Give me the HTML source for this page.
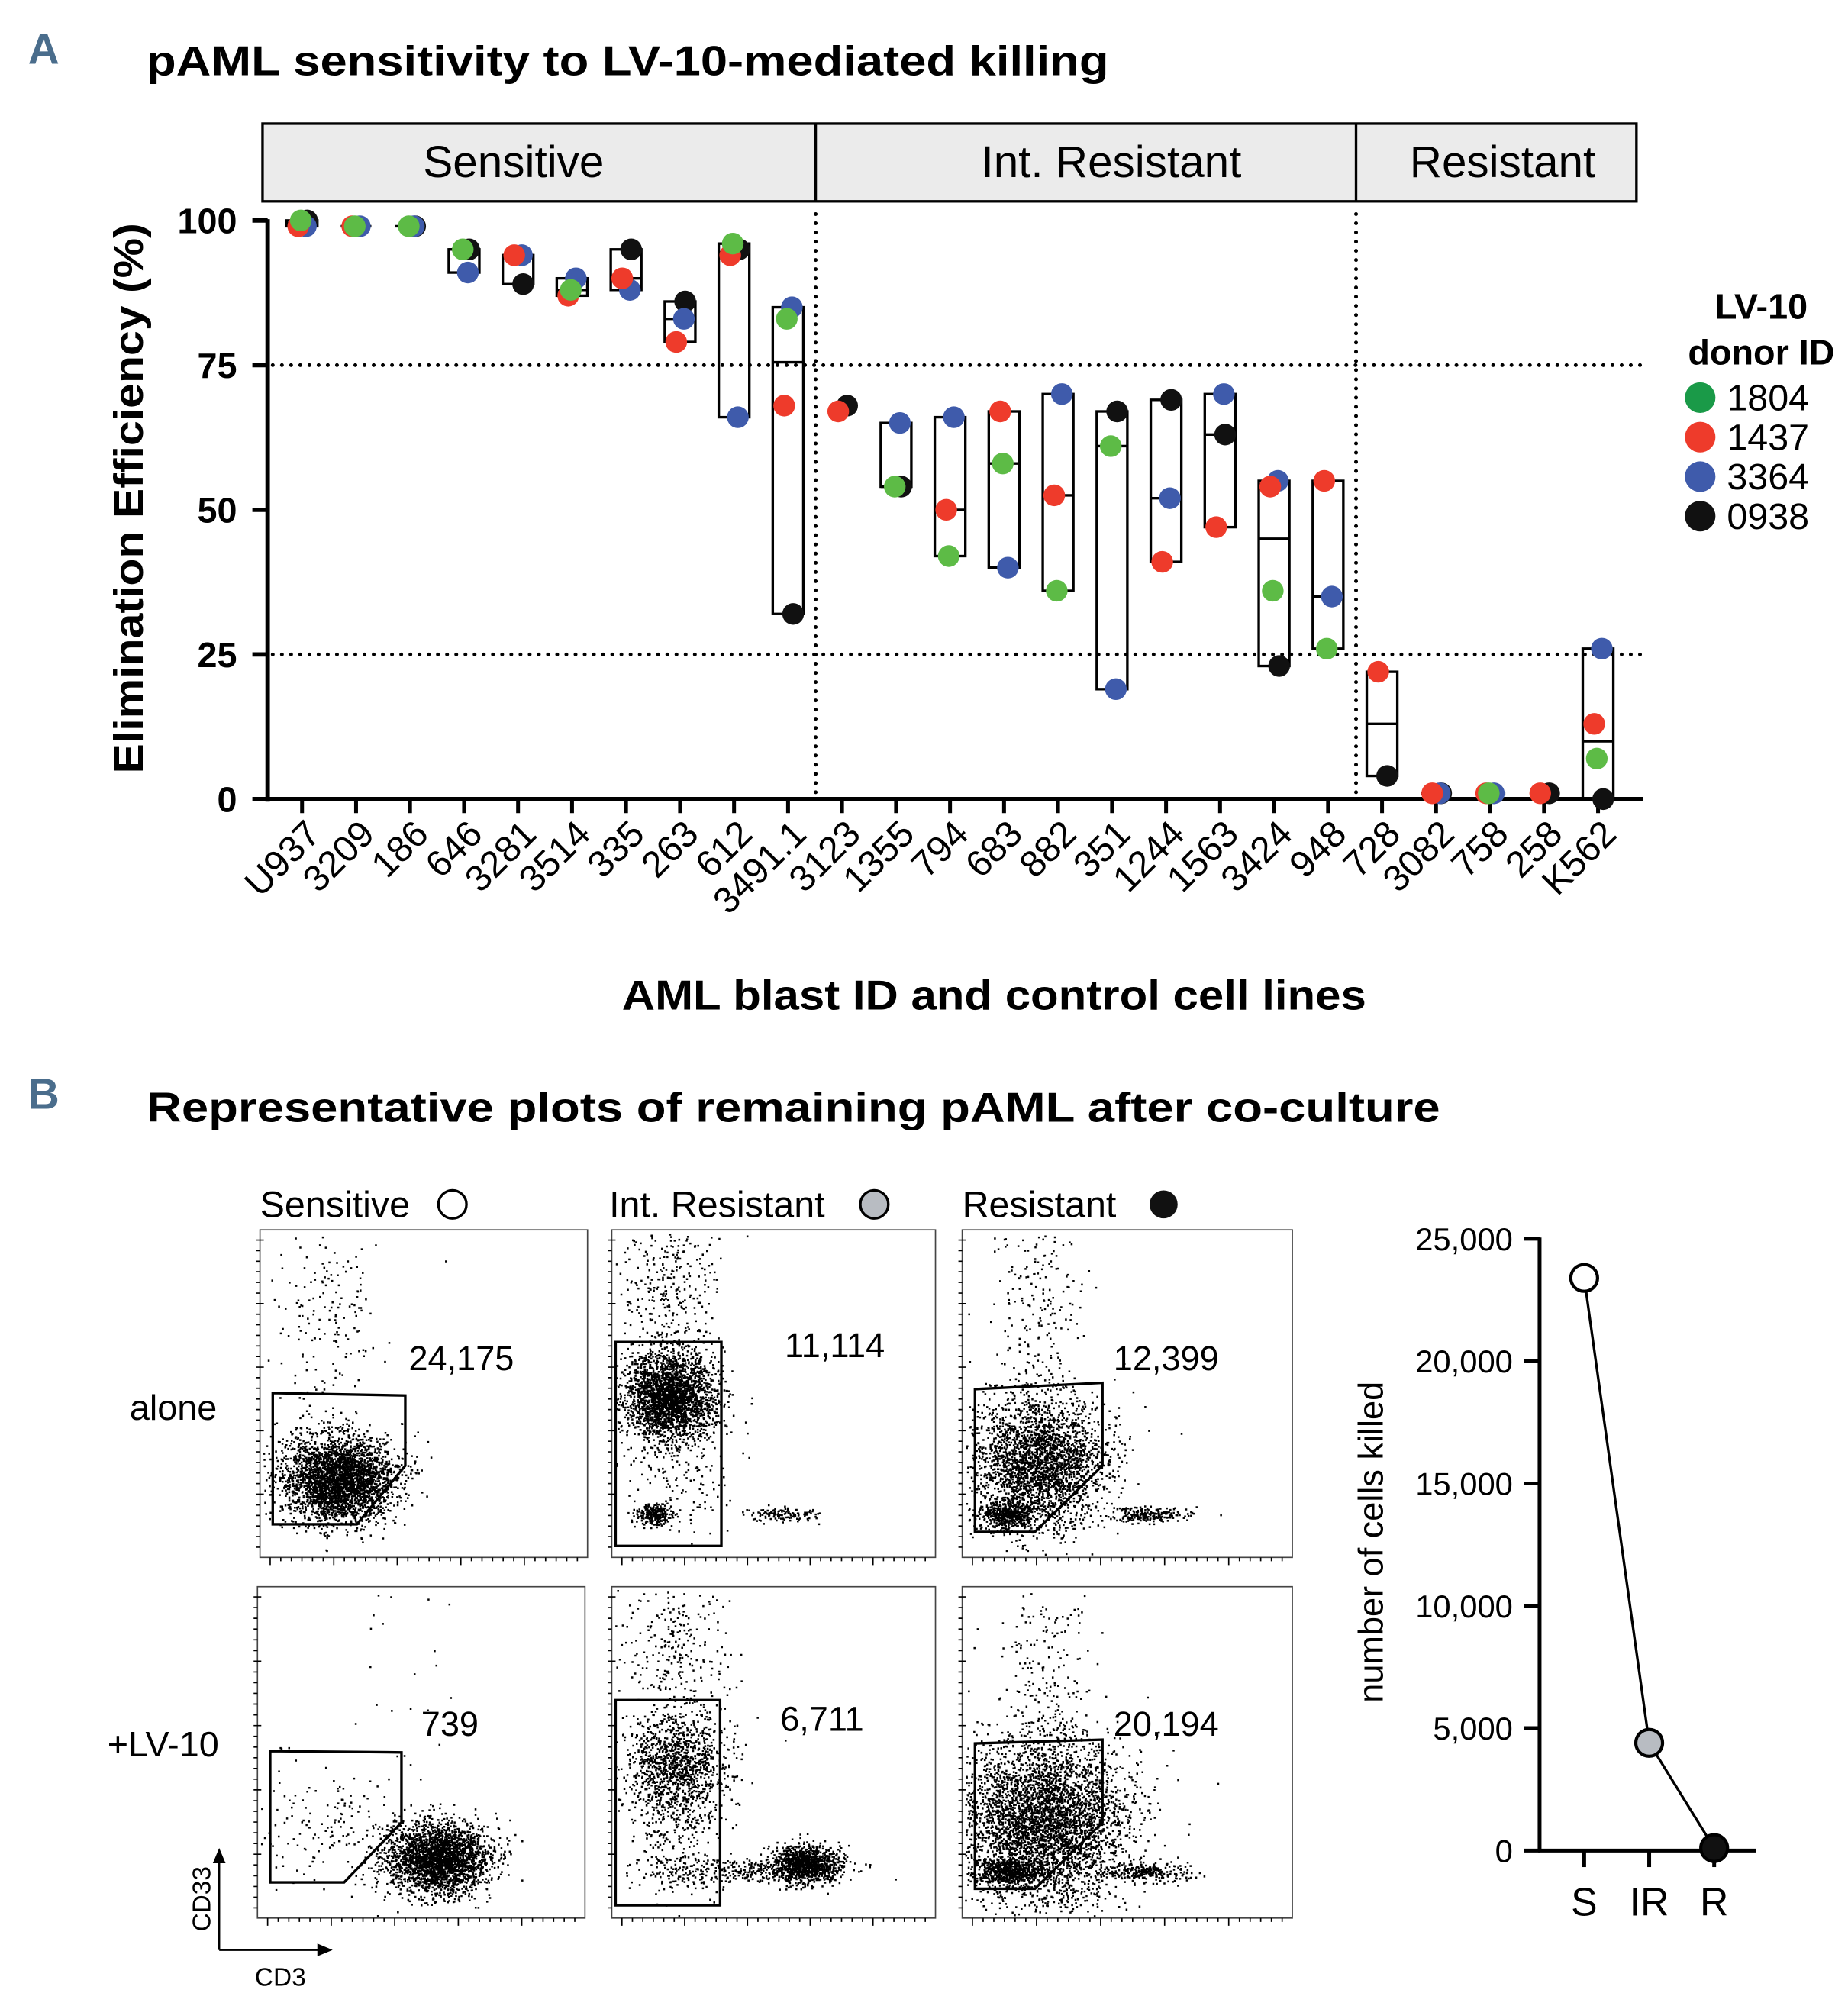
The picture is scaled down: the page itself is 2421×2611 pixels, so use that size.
<!DOCTYPE html>
<html><head><meta charset="utf-8"><style>
html,body{margin:0;padding:0;background:#fff}
svg{display:block}
text{font-family:"Liberation Sans",Arial,sans-serif}
</style></head><body>
<svg id="fig" xmlns="http://www.w3.org/2000/svg" width="2421" height="2611" viewBox="0 0 1450 1563.8">
<text x="22" y="50" font-size="34" font-weight="bold" fill="#4a6d8c">A</text>
<text x="115" y="59" font-size="33" font-weight="bold" textLength="755" lengthAdjust="spacingAndGlyphs">pAML sensitivity to LV-10-mediated killing</text>
<g>
<rect x="206" y="97" width="1078" height="61" fill="#ebebeb" stroke="#000" stroke-width="2"/>
<line x1="640" y1="97" x2="640" y2="158" stroke="#000" stroke-width="2"/>
<line x1="1064" y1="97" x2="1064" y2="158" stroke="#000" stroke-width="2"/>
<text x="403" y="139" font-size="35" text-anchor="middle">Sensitive</text>
<text x="872" y="139" font-size="35" text-anchor="middle">Int. Resistant</text>
<text x="1179" y="139" font-size="35" text-anchor="middle">Resistant</text>
</g>
<g id="chartA"></g>
<text transform="translate(112,391) rotate(-90)" font-size="32" font-weight="bold" text-anchor="middle" textLength="432" lengthAdjust="spacingAndGlyphs">Elimination Efficiency (%)</text>
<text x="780" y="792" font-size="33" font-weight="bold" text-anchor="middle" textLength="584" lengthAdjust="spacingAndGlyphs">AML blast ID and control cell lines</text>
<g>
<text x="1382" y="250" font-size="28" font-weight="bold" text-anchor="middle">LV-10</text>
<text x="1382" y="286" font-size="28" font-weight="bold" text-anchor="middle">donor ID</text>
<g><circle cx="1334" cy="312" r="12" fill="#1a9a48"/><text x="1355" y="322" font-size="29">1804</text></g>
<g><circle cx="1334" cy="343" r="12" fill="#ee3b2b"/><text x="1355" y="353" font-size="29">1437</text></g>
<g><circle cx="1334" cy="374" r="12" fill="#3f5bab"/><text x="1355" y="384" font-size="29">3364</text></g>
<g><circle cx="1334" cy="405" r="12" fill="#111"/><text x="1355" y="415" font-size="29">0938</text></g>
</g>
<text x="22" y="870" font-size="34" font-weight="bold" fill="#4a6d8c">B</text>
<text x="115" y="880" font-size="33" font-weight="bold" textLength="1015" lengthAdjust="spacingAndGlyphs">Representative plots of remaining pAML after co-culture</text>
<g>
<text x="204" y="955" font-size="29">Sensitive</text>
<circle cx="355" cy="945" r="11" fill="#fff" stroke="#000" stroke-width="2"/>
<text x="478" y="955" font-size="29">Int. Resistant</text>
<circle cx="686" cy="945" r="11" fill="#b8bcc2" stroke="#000" stroke-width="2"/>
<text x="755" y="955" font-size="29">Resistant</text>
<circle cx="913" cy="945" r="11" fill="#111"/>
</g>
<text x="136" y="1114" font-size="28" text-anchor="middle">alone</text>
<text x="128" y="1378" font-size="28" text-anchor="middle">+LV-10</text>
<g id="flow"></g>
<g>
<line x1="172" y1="1530" x2="172" y2="1458" stroke="#000" stroke-width="1.5"/>
<polygon points="172,1450 167,1462 177,1462" fill="#000"/>
<line x1="172" y1="1530" x2="252" y2="1530" stroke="#000" stroke-width="1.5"/>
<polygon points="261,1530 249,1525 249,1535" fill="#000"/>
<text transform="translate(165,1490) rotate(-90)" font-size="20" text-anchor="middle">CD33</text>
<text x="220" y="1558" font-size="20" text-anchor="middle">CD3</text>
</g>
<g id="chartC"></g>
<text transform="translate(1085,1210) rotate(-90)" font-size="27" text-anchor="middle">number of cells killed</text>
</svg>
<script>
const NS="http://www.w3.org/2000/svg";
function mk(tag,attrs,parent){const e=document.createElementNS(NS,tag);for(const k in attrs)e.setAttribute(k,attrs[k]);parent.appendChild(e);return e;}

// ---- Panel A data ----
const categories=["U937","3209","186","646","3281","3514","335","263","612","3491.1","3123","1355","794","683","882","351","1244","1563","3424","948","728","3082","758","258","K562"];
const d1804=[100,99,99,95,null,88,null,null,96,83,null,54,42,58,36,61,null,null,36,26,null,null,1,null,7];
const d1437=[99,99,null,null,94,87,90,79,94,68,67,null,50,67,52.5,null,41,47,54,55,22,1,1,1,13];
const d3364=[99,99,99,91,94,90,88,83,66,85,null,65,66,40,70,19,52,70,55,35,null,1,1,null,26];
const d0938=[100,null,99,95,89,null,95,86,95,32,68,54,null,null,null,67,69,63,23,null,4,1,null,1,0];
const yTicks=[0,25,50,75,100];
const refLines=[25,75];

const gA=document.getElementById('chartA');
const yA=v=>627-v*4.54;
const xA=i=>237+i*42.37;
let ax=mk('line',{x1:210,y1:172,x2:210,y2:629,stroke:'#000','stroke-width':3.5},gA);


ax=mk('line',{x1:208,y1:627,x2:1289,y2:627,stroke:'#000','stroke-width':3.5},gA);


yTicks.forEach(v=>{
  mk('line',{x1:198,y1:yA(v),x2:210,y2:yA(v),stroke:'#000','stroke-width':3.5},gA);
  const t=mk('text',{x:186,y:yA(v)+10,'font-size':28,'font-weight':'bold','text-anchor':'end'},gA);
  t.textContent=v;
  
  
});
refLines.forEach(v=>{
  const l=mk('line',{x1:214,y1:yA(v),x2:1292,y2:yA(v),stroke:'#000','stroke-width':3,'stroke-dasharray':'0 7.2','stroke-linecap':'round'},gA);
  
  
});
[640,1064].forEach(x=>{
  const l=mk('line',{x1:x,y1:168,x2:x,y2:625,stroke:'#000','stroke-width':3,'stroke-dasharray':'0 7.2','stroke-linecap':'round'},gA);
  
  
});
const series=[{d:d0938,c:'#111',o:4},{d:d3364,c:'#3f5bab',o:3},{d:d1437,c:'#ee3b2b',o:-3},{d:d1804,c:'#5dbb46',o:-1}];
categories.forEach((cat,i)=>{
  const x=xA(i);
  mk('line',{x1:x,y1:627,x2:x,y2:638,stroke:'#000','stroke-width':3},gA);
  const t=mk('text',{transform:`translate(${x+16},656) rotate(-45)`,'font-size':29,'text-anchor':'end'},gA);
  t.textContent=cat;
  
  
  const vals=[d1804[i],d1437[i],d3364[i],d0938[i]].filter(v=>v!==null).sort((a,b)=>a-b);
  if(vals.length>=3||(vals.length===2&&Math.abs(vals[1]-vals[0])>3)){
    const mn=vals[0],mx=vals[vals.length-1];
    const n=vals.length;const med=n%2?vals[(n-1)/2]:(vals[n/2-1]+vals[n/2])/2;
    const b=mk('rect',{x:x-12,y:yA(mx),width:24,height:yA(mn)-yA(mx),fill:'none',stroke:'#000','stroke-width':2},gA);
    
    
    mk('line',{x1:x-12,y1:yA(med),x2:x+12,y2:yA(med),stroke:'#000','stroke-width':2},gA);
  }
});
series.forEach(s=>{
  s.d.forEach((v,i)=>{
    if(v===null)return;
    const c=mk('circle',{cx:xA(i)+s.o,cy:yA(v),r:8.5,fill:s.c},gA);
    
    
  });
});

// ---- Flow plots (texture) ----
const flowCounts=["24,175","11,114","12,399","739","6,711","20,194"];
const fg=document.getElementById('flow');
let seed=12345;
function rnd(){seed=(seed*1103515245+12345)%2147483648;return seed/2147483648;}
function gauss(){let u=rnd()||1e-6,v=rnd();return Math.sqrt(-2*Math.log(u))*Math.cos(2*Math.PI*v);}
const panels=[
 {x:204,y:965,w:257,h:257,gate:"214,1093 318,1095 318,1150 280,1196 214,1196",num:[362,1075],
  cl:[[265,1160,22,17,3200],[255,1030,22,45,180]]},
 {x:480,y:965,w:254,h:257,gate:"483,1053 566,1053 566,1213 483,1213",num:[655,1065],
  cl:[[525,1095,18,17,2600],[512,1188,7,4,250],[615,1188,14,3,120],[525,1010,20,30,320],[530,1150,20,25,150]]},
 {x:755,y:965,w:259,h:257,gate:"765,1090 865,1085 865,1150 812,1202 765,1202",num:[915,1075],
  cl:[[815,1148,26,26,2800],[790,1188,10,5,450],[900,1188,16,3,220],[815,1020,18,40,200]]},
 {x:202,y:1245,w:257,h:260,gate:"212,1374 315,1375 315,1430 270,1477 212,1477",num:[353,1362],
  cl:[[343,1458,20,14,2600],[260,1430,30,25,160],[330,1320,20,50,25]]},
 {x:480,y:1245,w:254,h:260,gate:"483,1334 565,1334 565,1495 483,1495",num:[645,1358],
  cl:[[530,1385,20,22,1300],[632,1462,14,7,1100],[570,1468,40,5,300],[530,1290,20,30,260],[530,1450,20,25,200]]},
 {x:755,y:1245,w:259,h:260,gate:"765,1368 865,1365 865,1430 812,1482 765,1482",num:[915,1362],
  cl:[[818,1428,32,32,4200],[790,1468,13,5,600],[900,1468,16,4,260],[820,1310,20,45,200]]}
];
panels.forEach((p,pi)=>{
  const g=mk('g',{},fg);
  
  
  mk('rect',{x:p.x,y:p.y,width:p.w,height:p.h,fill:'#fff',stroke:'#444','stroke-width':1},g);
  let d='';
  p.cl.forEach(c=>{for(let k=0;k<c[4];k++){const px=c[0]+gauss()*c[2],py=c[1]+gauss()*c[3];
    if(px>p.x+2&&px<p.x+p.w-2&&py>p.y+2&&py<p.y+p.h-2)d+=`M${px.toFixed(1)} ${py.toFixed(1)}h1.5v1.5h-1.5z`;}});
  mk('path',{d:d,fill:'#000'},g);
  let t='';
  for(let k=0;k<30;k++){const yy=p.y+8+k*(p.h-16)/29;t+=`M${p.x-3} ${yy.toFixed(1)}h${k%6==0?6:3}`;}
  for(let k=0;k<30;k++){const xx=p.x+8+k*(p.w-16)/29;t+=`M${xx.toFixed(1)} ${p.y+p.h}v${k%6==0?6:3}`;}
  mk('path',{d:t,stroke:'#000','stroke-width':1},g);
  const gt=mk('polygon',{points:p.gate,fill:'none',stroke:'#000','stroke-width':2},g);
  
  
  const n=mk('text',{x:p.num[0],y:p.num[1],'font-size':27,'text-anchor':'middle'},g);
  n.textContent=flowCounts[pi];
  
  
});

// ---- Cells killed chart ----
const killCats=["S","IR","R"];
const killVals=[23400,4400,100];
const killTicks=[0,5000,10000,15000,20000,25000];
const killFill=["#fff","#b8bcc2","#111"];
const gC=document.getElementById('chartC');
const yC=v=>1452-v*0.0192;
const xC=i=>1243+i*51;
mk('line',{x1:1208,y1:yC(25000)-1,x2:1208,y2:1453,stroke:'#000','stroke-width':3},gC);
mk('line',{x1:1207,y1:1452,x2:1378,y2:1452,stroke:'#000','stroke-width':3},gC);
killTicks.forEach(v=>{
  mk('line',{x1:1196,y1:yC(v),x2:1208,y2:yC(v),stroke:'#000','stroke-width':3},gC);
  const t=mk('text',{x:1187,y:yC(v)+9,'font-size':25,'text-anchor':'end'},gC);
  t.textContent=v.toLocaleString('en-US');
  
  
});
let pts=killVals.map((v,i)=>xC(i)+','+yC(v)).join(' ');
mk('polyline',{points:pts,fill:'none',stroke:'#000','stroke-width':2},gC);
killCats.forEach((c,i)=>{
  mk('line',{x1:xC(i),y1:1452,x2:xC(i),y2:1465,stroke:'#000','stroke-width':3},gC);
  const t=mk('text',{x:xC(i),y:1503,'font-size':31,'text-anchor':'middle'},gC);
  t.textContent=c;
  
  
  const p=mk('circle',{cx:xC(i),cy:yC(killVals[i]),r:10.5,fill:killFill[i],stroke:'#000','stroke-width':2.5},gC);
  
  
});
</script>
</body></html>
